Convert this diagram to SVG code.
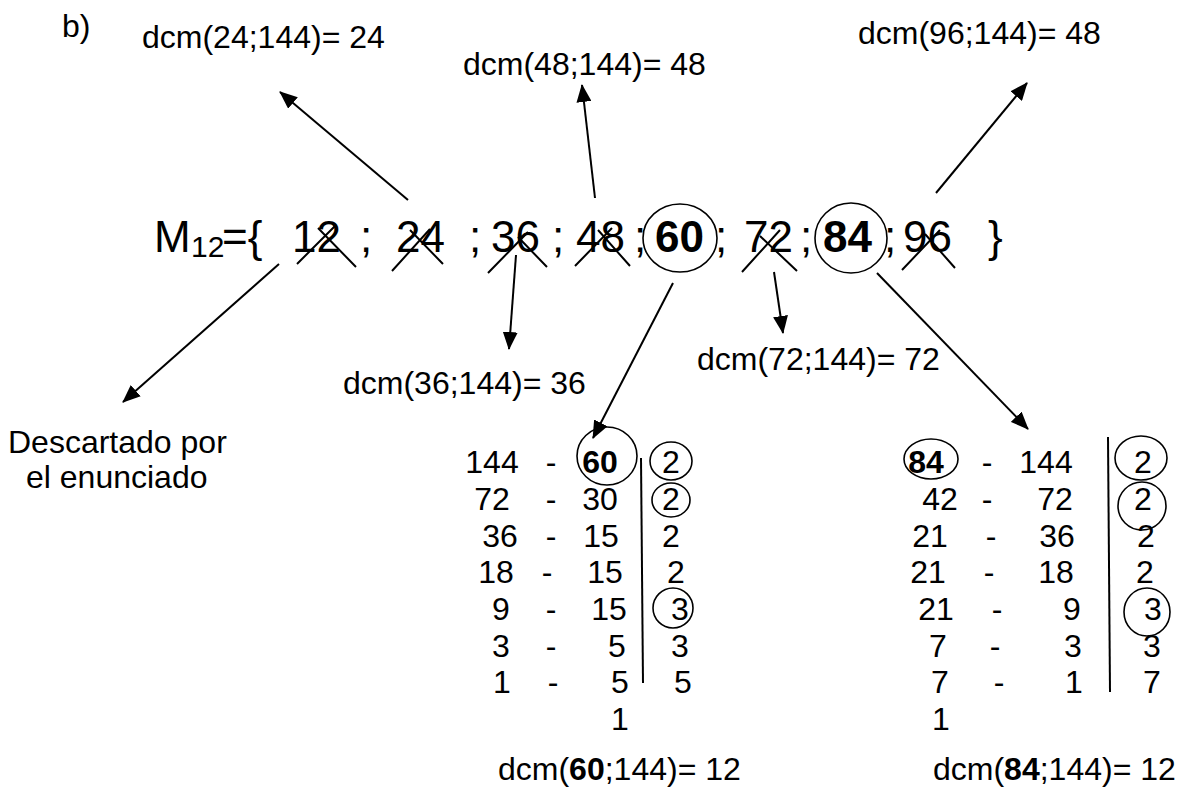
<svg xmlns="http://www.w3.org/2000/svg" width="1183" height="787" viewBox="0 0 1183 787">
<style>
text{font-family:"Liberation Sans",Arial,sans-serif;fill:#000}
.lb{font-size:32px}
.mr{font-size:44px}
.sub{font-size:30px}
.tb{font-size:32px;text-anchor:middle}
.b{font-weight:bold}
.ln{stroke:#000;stroke-width:2;fill:none}
.ar{stroke:#000;stroke-width:2;fill:none;marker-end:url(#ah)}
.cx{stroke:#000;stroke-width:2;fill:none}
.ci{stroke:#000;stroke-width:1.6;fill:none}
</style>
<defs>
<marker id="ah" markerUnits="userSpaceOnUse" markerWidth="18" markerHeight="15" refX="17" refY="7.5" orient="auto">
<path d="M0,0 L18,7.5 L0,15 z" fill="#000"/>
</marker>
</defs>
<rect width="1183" height="787" fill="#fff"/>

<g id="label-b"><text class="lb" x="62" y="37">b)</text></g>
<g id="dcm24"><text class="lb" x="142" y="48">dcm(24;144)= 24</text></g>
<g id="dcm48"><text class="lb" x="463" y="75">dcm(48;144)= 48</text></g>
<g id="dcm96"><text class="lb" x="858" y="44">dcm(96;144)= 48</text></g>
<g id="dcm36"><text class="lb" x="343" y="394">dcm(36;144)= 36</text></g>
<g id="dcm72"><text class="lb" x="697" y="370">dcm(72;144)= 72</text></g>
<g id="descartado">
<text class="lb" x="8" y="453">Descartado por</text>
<text class="lb" x="26" y="488">el enunciado</text>
</g>

<g id="set">
<text class="mr" x="154" y="252">M</text>
<text class="sub" x="191" y="257">12</text>
<text class="mr" x="222" y="252">={</text>
<text class="mr" x="292" y="252">12</text>
<text class="mr" x="360" y="252">;</text>
<text class="mr" x="396" y="252">24</text>
<text class="mr" x="469" y="252">;</text>
<text class="mr" x="491" y="252">36</text>
<text class="mr" x="552" y="252">;</text>
<text class="mr" x="576" y="252">48</text>
<text class="mr" x="634" y="252">;</text>
<text class="mr b" x="655" y="252">60</text>
<text class="mr" x="715" y="252">;</text>
<text class="mr" x="744" y="252">72</text>
<text class="mr" x="800" y="252">;</text>
<text class="mr b" x="823" y="252">84</text>
<text class="mr" x="884" y="252">;</text>
<text class="mr" x="903" y="252">96</text>
<text class="mr" x="988" y="252">}</text>
<ellipse class="ci" cx="680" cy="238" rx="37" ry="34"/>
<ellipse class="ci" cx="851" cy="238" rx="36" ry="35"/>
<path class="cx" d="M297,264 L335,226 M318,228 L356,267"/>
<path class="cx" d="M392,271 L430,229 M410,230 L443,264"/>
<path class="cx" d="M488,273 L528,232 M518,237 L547,267"/>
<path class="cx" d="M575,266 L612,228 M598,230 L630,266"/>
<path class="cx" d="M742,272 L780,230 M760,236 L797,271"/>
<path class="cx" d="M902,270 L940,230 M925,234 L955,268"/>
</g>

<g id="table60">
<g class="tb">
<text x="492" y="473">144</text><text x="551" y="473">-</text><text class="b" x="600" y="473">60</text><text x="671" y="473">2</text>
<text x="492" y="510">72</text><text x="551" y="510">-</text><text x="600" y="510">30</text><text x="671" y="510">2</text>
<text x="500" y="547">36</text><text x="551" y="547">-</text><text x="601" y="547">15</text><text x="671" y="547">2</text>
<text x="496" y="583">18</text><text x="547" y="583">-</text><text x="605" y="583">15</text><text x="676" y="583">2</text>
<text x="501" y="620">9</text><text x="551" y="620">-</text><text x="609" y="620">15</text><text x="680" y="620">3</text>
<text x="501" y="657">3</text><text x="551" y="657">-</text><text x="617" y="657">5</text><text x="680" y="657">3</text>
<text x="502" y="693">1</text><text x="553" y="693">-</text><text x="620" y="693">5</text><text x="683" y="693">5</text>
<text x="620" y="730">1</text>
</g>
<line class="ln" x1="641" y1="458" x2="643" y2="683"/>
<ellipse class="ci" cx="607" cy="456" rx="30" ry="29"/>
<ellipse class="ci" cx="671" cy="461" rx="21" ry="19"/>
<ellipse class="ci" cx="671" cy="500" rx="19" ry="17"/>
<ellipse class="ci" cx="673" cy="608" rx="20" ry="20"/>
<text class="lb" x="498" y="780">dcm(<tspan class="b">60</tspan>;144)= 12</text>
</g>

<g id="table84">
<g class="tb">
<text class="b" x="926" y="473">84</text><text x="987" y="473">-</text><text x="1046" y="473">144</text><text x="1143" y="473">2</text>
<text x="940" y="510">42</text><text x="987" y="510">-</text><text x="1055" y="510">72</text><text x="1143" y="510">2</text>
<text x="930" y="547">21</text><text x="991" y="547">-</text><text x="1057" y="547">36</text><text x="1146" y="547">2</text>
<text x="928" y="583">21</text><text x="989" y="583">-</text><text x="1056" y="583">18</text><text x="1145" y="583">2</text>
<text x="936" y="620">21</text><text x="997" y="620">-</text><text x="1072" y="620">9</text><text x="1153" y="620">3</text>
<text x="938" y="657">7</text><text x="995" y="657">-</text><text x="1073" y="657">3</text><text x="1152" y="657">3</text>
<text x="940" y="693">7</text><text x="999" y="693">-</text><text x="1074" y="693">1</text><text x="1152" y="693">7</text>
<text x="941" y="730">1</text>
</g>
<line class="ln" x1="1108" y1="437" x2="1110" y2="692"/>
<ellipse class="ci" cx="931" cy="459" rx="27" ry="20"/>
<ellipse class="ci" cx="1141" cy="458" rx="26" ry="22"/>
<ellipse class="ci" cx="1142" cy="506" rx="24" ry="24"/>
<ellipse class="ci" cx="1147" cy="612" rx="23" ry="24"/>
<text class="lb" x="933" y="780">dcm(<tspan class="b">84</tspan>;144)= 12</text>
</g>

<g id="connectors">
<line class="ar" x1="408" y1="200" x2="280" y2="92"/>
<line class="ar" x1="595" y1="198" x2="582" y2="85"/>
<line class="ar" x1="936" y1="193" x2="1027" y2="83"/>
<line class="ar" x1="279" y1="264" x2="123" y2="402"/>
<line class="ar" x1="516" y1="255" x2="509" y2="349"/>
<line class="ar" x1="774" y1="272" x2="783" y2="333"/>
<line class="ar" x1="673" y1="283" x2="593" y2="438"/>
<line class="ar" x1="877" y1="273" x2="1028" y2="429"/>
</g>
</svg>
